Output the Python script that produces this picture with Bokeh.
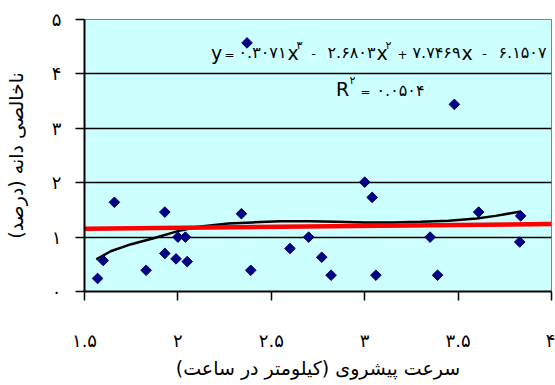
from bokeh.plotting import figure
from bokeh.models import Range1d, FixedTicker, CustomJSTickFormatter
from bokeh.core.properties import value
from bokeh.embed import file_html
from bokeh.resources import INLINE
import math

# ---- data ----
speed = [1.57, 1.60, 1.66, 1.83, 1.93, 1.93, 1.99, 2.00, 2.04, 2.05, 2.34, 2.37, 2.39,
         2.60, 2.70, 2.77, 2.82, 3.00, 3.04, 3.06, 3.35, 3.39, 3.48, 3.61, 3.835, 3.83]
impurity = [0.24, 0.57, 1.64, 0.39, 1.46, 0.70, 0.60, 1.00, 1.00, 0.55, 1.43, 4.57, 0.39,
            0.79, 1.00, 0.63, 0.30, 2.01, 1.73, 0.30, 1.00, 0.30, 3.44, 1.46, 1.39, 0.91]

poly_x = [1.563, 1.64, 1.75, 1.87, 2.00, 2.11, 2.27, 2.40, 2.55, 2.70, 2.85, 3.00,
          3.15, 3.30, 3.45, 3.60, 3.70, 3.835]
poly_y = [0.59, 0.74, 0.87, 0.98, 1.11, 1.19, 1.25, 1.27, 1.29, 1.29, 1.28, 1.27,
          1.27, 1.28, 1.30, 1.34, 1.39, 1.47]

lin_x = [1.5, 4.0]
lin_y = [1.155, 1.24]

x_ticks = [1.5, 2, 2.5, 3, 3.5, 4]
y_ticks = [0, 1, 2, 3, 4, 5]

W, H = 555, 385
L, R, T, B = 84, 4, 19, 94

p = figure(width=W, height=H, output_backend="svg", toolbar_location=None,
           x_range=Range1d(1.5, 4), y_range=Range1d(0, 5),
           min_border_left=L, min_border_right=R, min_border_top=T, min_border_bottom=B,
           background_fill_color="#CCFFFF", border_fill_color="white")
p.outline_line_color = "#808080"
p.outline_line_width = 1

fa = "const d='۰۱۲۳۴۵۶۷۸۹'; return String(tick).replace(/[0-9]/g, c => d[+c]);"
for ax, ticks in ((p.xaxis[0], x_ticks), (p.yaxis[0], y_ticks)):
    ax.ticker = FixedTicker(ticks=ticks)
    ax.formatter = CustomJSTickFormatter(code=fa)
    ax.axis_line_color = "black"
    ax.axis_line_width = 2
    ax.major_tick_line_color = "black"
    ax.major_tick_line_width = 1.5
    ax.major_tick_out = 9
    ax.major_tick_in = 0
    ax.minor_tick_line_color = None
    ax.major_label_text_font = "DejaVu Sans"
    ax.major_label_text_font_size = "18px"
    ax.major_label_text_color = "black"
    ax.axis_label_text_font = "DejaVu Sans"
    ax.axis_label_text_font_style = "normal"
    ax.axis_label_text_font_size = "19px"
    ax.axis_label_text_color = "black"

p.xaxis.axis_label = "سرعت پیشروی (کیلومتر در ساعت)"
p.xaxis.major_label_standoff = 29
p.xaxis.axis_label_standoff = 3
p.yaxis.axis_label = "ناخالصی دانه (درصد)"
p.yaxis.major_label_standoff = 14
p.yaxis.axis_label_standoff = 22

p.xgrid.grid_line_color = None
p.ygrid.ticker = FixedTicker(ticks=y_ticks)
p.ygrid.grid_line_color = "black"
p.ygrid.grid_line_width = 1.3

fw = W - L - R
fh = H - T - B
def dx(px):
    return 1.5 + (px - L) / fw * 2.5
def dy(py):
    return (T + fh - py) / fh * 5

# equation text pieces (drawn before markers so markers sit above)
# (text, x px, y px, size, align)
pieces = [
    ("y", 216, 52, "19px", "center"),
    ("=", 229, 54, "12px", "center"),
    ("۰.۳۰۷۱", 262, 52, "16px", "center"),
    ("x", 287, 52, "19px", "left"),
    ("۳", 296, 45, "11px", "left"),
    ("-", 313, 53, "13px", "center"),
    ("۲.۶۸۰۳", 351, 52, "16px", "center"),
    ("x", 376, 52, "19px", "left"),
    ("۲", 385, 45, "11px", "left"),
    ("+", 402, 54, "12px", "center"),
    ("۷.۷۴۶۹", 436, 52, "16px", "center"),
    ("x", 461, 52, "19px", "left"),
    ("-", 484, 53, "13px", "center"),
    ("۶.۱۵۰۷", 522, 52, "16px", "center"),
    ("R", 342, 88, "19px", "center"),
    ("۲", 349, 80, "11px", "left"),
    ("=", 365, 91, "12px", "center"),
    ("۰.۰۵۰۴", 400, 90, "16px", "center"),
]
for txt, px, py, fs, al in pieces:
    p.text(x=[dx(px)], y=[dy(py)], text=[txt], text_font=value("DejaVu Sans"),
           text_font_size=fs, text_align=al, text_baseline="middle",
           text_color="black")

p.line(poly_x, poly_y, line_color="black", line_width=2.5)
p.line(lin_x, lin_y, line_color="#FF0000", line_width=4.5)
p.scatter(speed, impurity, marker="square", size=7.5, angle=math.pi / 4,
          fill_color="#000080", line_color="#000080")

open("out.html", "w").write(file_html(p, INLINE))
